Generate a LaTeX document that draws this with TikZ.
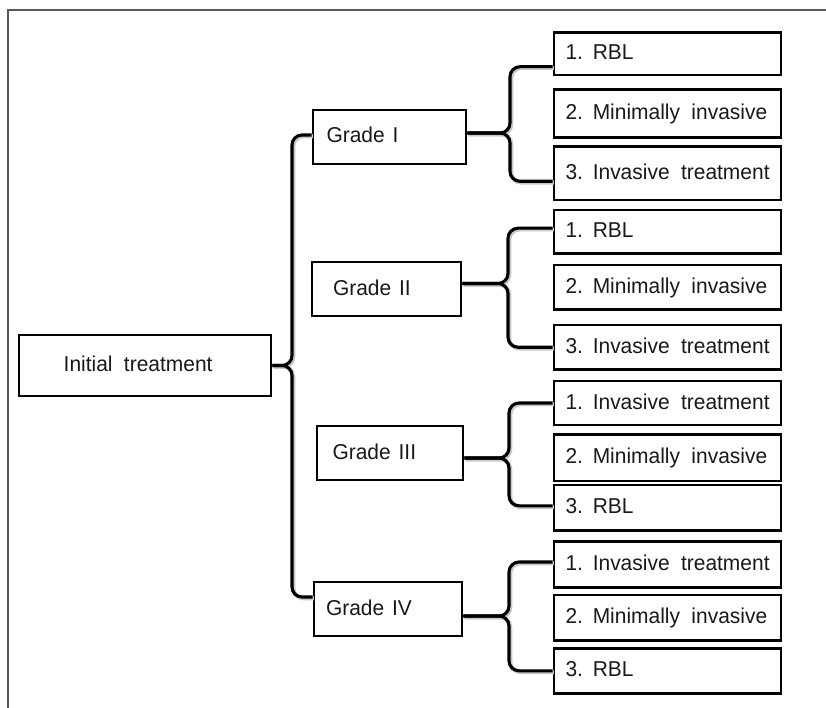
\documentclass[tikz,border=0pt]{standalone}
\usepackage{fontspec}
\setmainfont{Liberation Sans}[WordSpace={1.35}, FakeStretch=0.975]
\newcommand{\wg}{\hspace{3.5pt}}
\begin{document}
\begin{tikzpicture}[x=1pt,y=-1pt,
  box/.style={draw=black, line width=2.7pt, inner ysep=0pt, text height=14pt, text depth=2pt,
    font=\fontsize{21.5}{24}\selectfont, text=black!90},
  conn/.style={line width=3.1pt, rounded corners=10pt},
  shade/.style={line width=4.2pt, rounded corners=10pt, draw=black!22, transform canvas={xshift=1.2pt,yshift=-1.2pt}},
  frame/.style={draw=black!65, line width=1.3pt}]
\useasboundingbox (0,0) rectangle (826,708);
\draw[frame] (8,708) -- (8,10) -- (826,10);

% root
\node[box, minimum height=61pt, inner xsep=44.7pt] (init) at (145,365.5) {\makebox[162.6pt][l]{Initial\wg{} treatment}};

% grades
\node[box, minimum height=54pt, inner xsep=13.5pt] (g1) at (389.5,137) {\makebox[126pt][l]{Grade I}};
\node[box, minimum height=54pt, inner xsep=21pt] (g2) at (386.5,289) {\makebox[107pt][l]{Grade II}};
\node[box, minimum height=54pt, inner xsep=15.5pt] (g3) at (390,453) {\makebox[115pt][l]{Grade III}};
\node[box, minimum height=54pt, inner xsep=12pt] (g4) at (388,609) {\makebox[124pt][l]{Grade IV}};

% leaves
\tikzset{leaf/.style={box, inner xsep=11.5pt}}
\node[leaf, minimum height=42.7pt] (a1) at (667.5,53.7) {\makebox[204pt][l]{1. RBL}};
\node[leaf, minimum height=48pt]   (a2) at (667.5,113.3) {\makebox[204pt][l]{2. Minimally\wg{} invasive}};
\node[leaf, minimum height=53.3pt] (a3) at (667.5,173.3) {\makebox[204pt][l]{3. Invasive\wg{} treatment}};

\node[leaf, minimum height=43.3pt] (b1) at (667.5,231.7) {\makebox[204pt][l]{1. RBL}};
\node[leaf, minimum height=44.3pt] (b2) at (667.5,287.2) {\makebox[204pt][l]{2. Minimally\wg{} invasive}};
\node[leaf, minimum height=44.3pt] (b3) at (667.5,347.2) {\makebox[204pt][l]{3. Invasive\wg{} treatment}};

\node[leaf, minimum height=44pt]   (c1) at (667.5,403) {\makebox[204pt][l]{1. Invasive\wg{} treatment}};
\node[leaf, minimum height=46.7pt] (c2) at (667.5,457.7) {\makebox[204pt][l]{2. Minimally\wg{} invasive}};
\node[leaf, minimum height=45.7pt] (c3) at (667.5,507.8) {\makebox[204pt][l]{3. RBL}};

\node[leaf, minimum height=45.7pt] (d1) at (667.5,564.5) {\makebox[204pt][l]{1. Invasive\wg{} treatment}};
\node[leaf, minimum height=45.7pt] (d2) at (667.5,617.8) {\makebox[204pt][l]{2. Minimally\wg{} invasive}};
\node[leaf, minimum height=45pt]   (d3) at (667.5,670.8) {\makebox[204pt][l]{3. RBL}};

% spine x positions
\coordinate (s0) at (292,0);
\coordinate (s1) at (510,0);
\coordinate (s2) at (508,0);
\coordinate (s3) at (509,0);
\coordinate (s4) at (509,0);

% brace anchor points
\coordinate (p0) at (init.east);
\coordinate (p1) at ([yshift=4pt]g1.east);
\coordinate (p2) at ([yshift=5.5pt]g2.east);
\coordinate (p3) at ([yshift=-5pt]g3.east);
\coordinate (p4) at ([yshift=-7pt]g4.east);

\foreach \st in {shade,conn}{
  % root brace
  \draw[\st] (p0) -- (p0 -| s0) |- ([yshift=2pt]g1.west);
  \draw[\st] (p0) -- (p0 -| s0) |- ([yshift=12pt]g4.west);
  % grade I brace
  \draw[\st] (p1) -- (p1 -| s1) |- ([yshift=-13pt]a1.west);
  \draw[\st] (p1) -- (p1 -| s1) |- ([yshift=-8pt]a3.west);
  % grade II brace
  \draw[\st] (p2) -- (p2 -| s2) |- ([yshift=3.5pt]b1.west);
  \draw[\st] (p2) -- (p2 -| s2) |- (b3.west);
  % grade III brace
  \draw[\st] (p3) -- (p3 -| s3) |- (c1.west);
  \draw[\st] (p3) -- (p3 -| s3) |- ([yshift=2pt]c3.west);
  % grade IV brace
  \draw[\st] (p4) -- (p4 -| s4) |- ([yshift=2.5pt]d1.west);
  \draw[\st] (p4) -- (p4 -| s4) |- (d3.west);
}
\end{tikzpicture}
\end{document}
